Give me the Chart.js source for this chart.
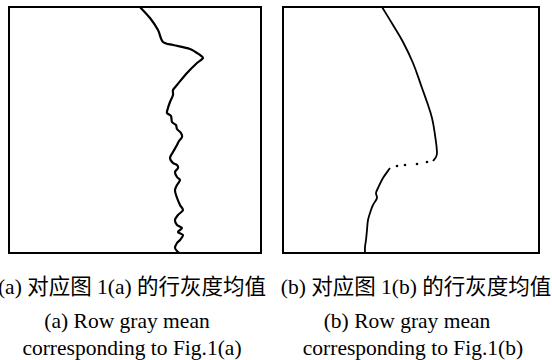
<!DOCTYPE html>
<html>
<head>
<meta charset="utf-8">
<script src="https://cdn.jsdelivr.net/npm/chart.js@4"></script>
<style>
  html, body { margin: 0; padding: 0; background: #fff; }
  body { width: 552px; height: 360px; position: relative; overflow: hidden; }
  canvas { position: absolute; top: 0; }
  .cap { position: absolute; width: 276px; text-align: center; white-space: nowrap;
         font-family: "Liberation Serif", "Noto Sans CJK SC", serif; font-size: 21.5px;
         color: #000; line-height: 22px; }
</style>
</head>
<body>
<canvas id="ca" width="276" height="262" style="left:0"></canvas>
<canvas id="cb" width="276" height="262" style="left:276px"></canvas>
<div class="cap" id="a1" style="left:-6px;top:276px"></div>
<div class="cap" id="a2" style="left:-11px;top:310px"></div>
<div class="cap" id="a3" style="left:-6px;top:337px"></div>
<div class="cap" id="b1" style="left:278px;top:276px"></div>
<div class="cap" id="b2" style="left:269px;top:310px"></div>
<div class="cap" id="b3" style="left:275px;top:337px"></div>
<script>
// Row gray mean profiles: x = gray mean, y = row index (top = 0)
const grayA = [131,141,149,154,164,181,191,194,188,178,168,164,164,161,159,158,162,163,167,168,172,173,170,168,164,161,164,168,169,166,168,171,168,166,167,171,174,169,166,168,173,169,174,171,168,166,169,173];
const rowsA = [0,11,23,35,38,42,48,51,56,66,78,83,88,95,101,106,109,115,118,122,126,130,134,138,145,151,156,158,161,165,170,173,178,183,188,198,203,208,213,218,221,225,228,233,236,241,245,248];

const grayB_upper = [99,110,120,130,139,144,149,152,154,153,150];
const rowsB_upper = [0,18,35,56,81,95,111,128,145,150,154];
const grayB_gap = [144,134,122,114];
const rowsB_gap = [155,157,158,159];
const grayB_lower = [107,100,95,93,94,90,88,85,84,83,82,82];
const rowsB_lower = [161,171,181,186,191,198,203,213,223,233,240,248];

const captionsA = ["(a) 对应图 1(a) 的行灰度均值", "(a) Row gray mean", "corresponding to Fig.1(a)"];
const captionsB = ["(b) 对应图 1(b) 的行灰度均值", "(b) Row gray mean", "corresponding to Fig.1(b)"];

["a1","a2","a3"].forEach((id,i)=>document.getElementById(id).textContent = captionsA[i]);
["b1","b2","b3"].forEach((id,i)=>document.getElementById(id).textContent = captionsB[i]);

const toPts = (xs, ys) => xs.map((x,i)=>({x:x, y:ys[i]}));

const boxPlugin = {
  id: 'box',
  afterDraw(chart) {
    const a = chart.chartArea, c = chart.ctx;
    c.save();
    c.strokeStyle = '#000';
    c.lineWidth = 2;
    c.strokeRect(a.left, a.top, a.right - a.left, a.bottom - a.top);
    c.restore();
  }
};

function makeChart(id, datasets, pad, xmax, ymax) {
  return new Chart(document.getElementById(id), {
    type: 'line',
    data: { datasets },
    options: {
      responsive: false,
      animation: false,
      devicePixelRatio: 1,
      layout: { padding: pad },
      plugins: { legend: { display: false }, tooltip: { enabled: false } },
      elements: { point: { radius: 0 } },
      scales: {
        x: { type: 'linear', min: 0, max: xmax, display: false },
        y: { type: 'linear', min: 0, max: ymax, reverse: true, display: false }
      }
    },
    plugins: [boxPlugin]
  });
}

makeChart('ca', [
  { data: toPts(grayA, rowsA), borderColor: '#000', borderWidth: 2.2, tension: 0.3, fill: false }
], {left: 9, top: 7, right: 15, bottom: 9}, 252, 246);

makeChart('cb', [
  { data: toPts(grayB_upper, rowsB_upper), borderColor: '#000', borderWidth: 1.8, tension: 0.4, fill: false },
  { data: toPts(grayB_gap, rowsB_gap), showLine: false, pointRadius: 1.3, pointBackgroundColor: '#000', pointBorderWidth: 0 },
  { data: toPts(grayB_lower, rowsB_lower), borderColor: '#000', borderWidth: 1.8, tension: 0.3, fill: false }
], {left: 7, top: 7, right: 13, bottom: 9}, 256, 246);
</script>
</body>
</html>
